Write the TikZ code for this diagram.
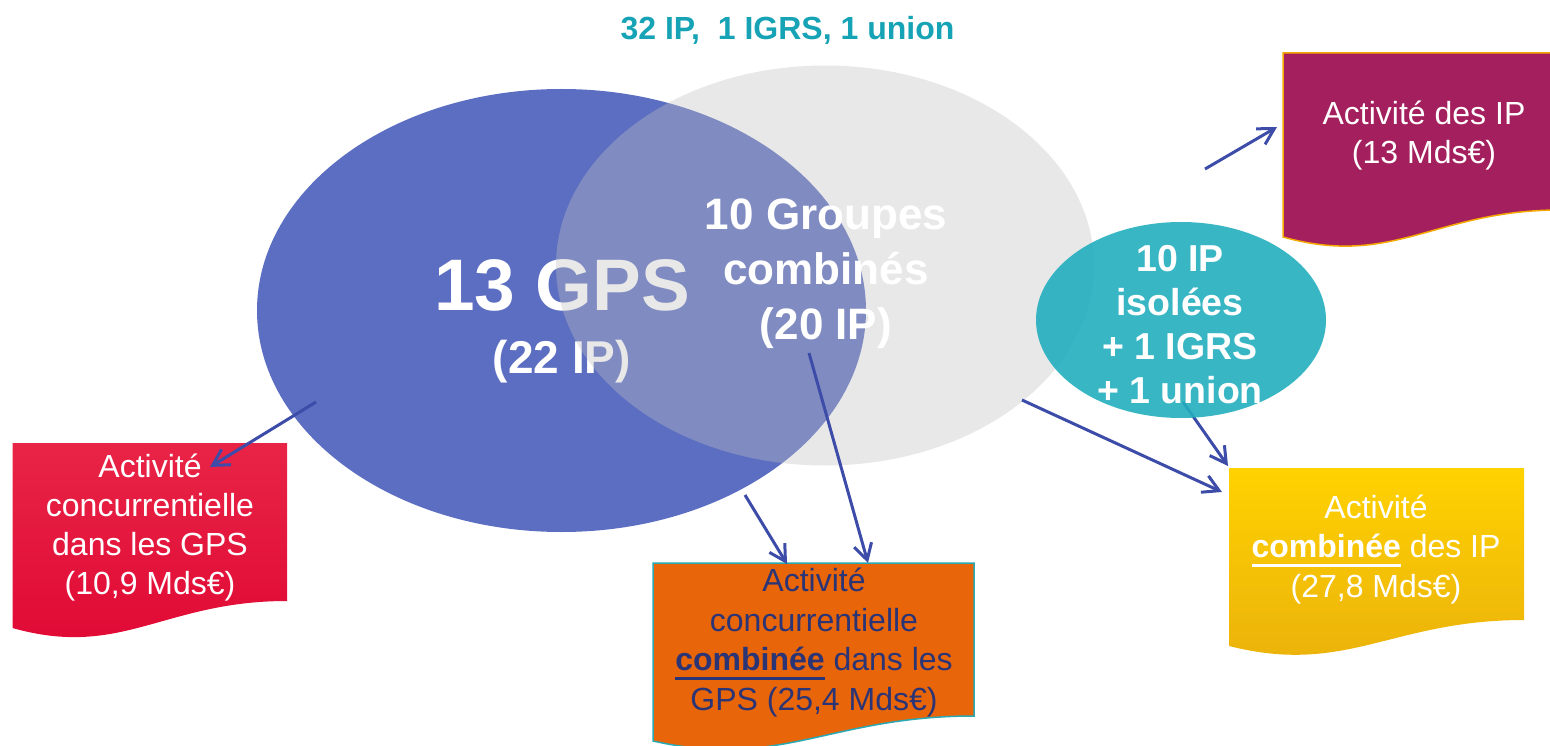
\documentclass[tikz,border=0pt]{standalone}
\usepackage{fontspec}
\setmainfont{Liberation Sans}
\usetikzlibrary{arrows.meta,shapes.geometric}
\definecolor{gpsblue}{RGB}{92,110,194}
\definecolor{grpgray}{RGB}{192,192,192}
\definecolor{tealell}{RGB}{36,174,190}
\definecolor{titleteal}{RGB}{22,163,181}
\definecolor{redtop}{RGB}{232,36,70}
\definecolor{redbot}{RGB}{224,8,52}
\definecolor{orangefill}{RGB}{232,101,10}
\definecolor{orangeedge}{RGB}{42,169,181}
\definecolor{navytext}{RGB}{43,53,118}
\definecolor{yeltop}{RGB}{255,210,0}
\definecolor{yelbot}{RGB}{234,176,12}
\definecolor{purplefill}{RGB}{164,31,93}
\definecolor{purpleedge}{RGB}{245,168,0}
\definecolor{arrblue}{RGB}{60,76,168}
\newsavebox\ulbox
\newcommand\myul[2]{\sbox\ulbox{#2}\rlap{\color{#1}\rule[-9pt]{\wd\ulbox}{2.8pt}}\usebox\ulbox}
\begin{document}
\begin{tikzpicture}[x=1pt,y=-1pt,
  txt/.style={inner sep=0pt, align=center, text=white},
  bigell/.style={ellipse, inner sep=0pt},
  arr/.style={draw=arrblue, line width=3pt, -{Straight Barb[length=16pt,width=18pt]}},
  docbody/.style={font=\fontsize{32}{39.3}\selectfont}
  ]
\useasboundingbox (0,0) rectangle (1550,746);
% title
\node[txt, text=titleteal, font=\bfseries\fontsize{32}{39}\selectfont, anchor=base] (title) at (787.5,39.5) {32 IP,\ \ 1 IGRS, 1 union};
% GPS ellipse
\node[bigell, fill=gpsblue, minimum width=609pt, minimum height=443pt] (gps) at (561.5,310.5) {};
\node[txt, font=\bfseries\fontsize{73}{80}\selectfont, anchor=base] (gpstitle) at (562,310) {13 GPS};
\node[txt, font=\bfseries\fontsize{46}{50}\selectfont, anchor=base] (gpscount) at (562,373) {(22 IP)};
% combined groups ellipse
\node[bigell, fill=grpgray, fill opacity=0.36, minimum width=538pt, minimum height=400pt] (grp) at (825,265.5) {};
\node[txt, font=\bfseries\fontsize{44}{55}\selectfont] (grptext) at (826,273.6) {10 Groupes\\combinés\\(20 IP)};
% arrow under the isolated ellipse
\coordinate (isoout) at (1183,402);
\coordinate (yeltopin) at (1228,466);
\draw[arr] (isoout) -- (yeltopin);
% isolated IP ellipse
\node[bigell, fill=tealell, fill opacity=0.9, minimum width=290pt, minimum height=196pt] (iso) at (1181,320) {};
\node[txt, font=\bfseries\fontsize{37.5}{44}\selectfont] (isotext) at (1180,325) {10 IP\\isolées\\+ 1 IGRS\\+ 1 union};
% document shapes
\path[top color=redtop, bottom color=redbot] (12.5,443) -- (287,443) -- (287,601) .. controls (163.5,601) and (122,659) .. (12.5,628) -- cycle;
\path[fill=orangefill, draw=orangeedge, line width=1.5pt] (653,563) -- (974,563) -- (974,716) .. controls (829.6,716) and (781.4,769.75) .. (653,741) -- cycle;
\path[top color=yeltop, bottom color=yelbot] (1229,468) -- (1524,468) -- (1524,620) .. controls (1391.25,620) and (1347,675.9) .. (1229,646) -- cycle;
\path[fill=purplefill, draw=purpleedge, line width=1.5pt] (1283,53) -- (1560,53) -- (1560,210) .. controls (1435,210) and (1393.8,268) .. (1283,237) -- cycle;
% document texts
\node[txt, docbody] (redtext) at (150,527.5) {Activité\\concurrentielle\\dans les GPS\\(10,9 Mds€)};
\node[txt, text=navytext, font=\fontsize{32}{39.5}\selectfont] (oratext) at (814,642.7) {Activité\\concurrentielle\\\myul{navytext}{\bfseries combinée} dans les\\GPS (25,4 Mds€)};
\node[txt, docbody] (yeltext) at (1376,549.5) {Activité\\\myul{white}{\bfseries combinée} des IP\\(27,8 Mds€)};
\node[txt, docbody] (purtext) at (1424,135.5) {Activité des IP\\(13 Mds€)};
% arrows
\coordinate (gpsout) at (316,402);
\coordinate (redin) at (210,467);
\coordinate (gpsbot) at (745,495);
\coordinate (orain1) at (787,564);
\coordinate (grpout) at (809,353);
\coordinate (orain2) at (868,563);
\coordinate (grpright) at (1022,400);
\coordinate (yelin) at (1222,492);
\coordinate (isoup) at (1205,169);
\coordinate (purin) at (1277,127);
\draw[arr] (gpsout) -- (redin);
\draw[arr] (gpsbot) -- (orain1);
\draw[arr] (grpout) -- (orain2);
\draw[arr] (grpright) -- (yelin);
\draw[arr] (isoup) -- (purin);
\end{tikzpicture}
\end{document}
